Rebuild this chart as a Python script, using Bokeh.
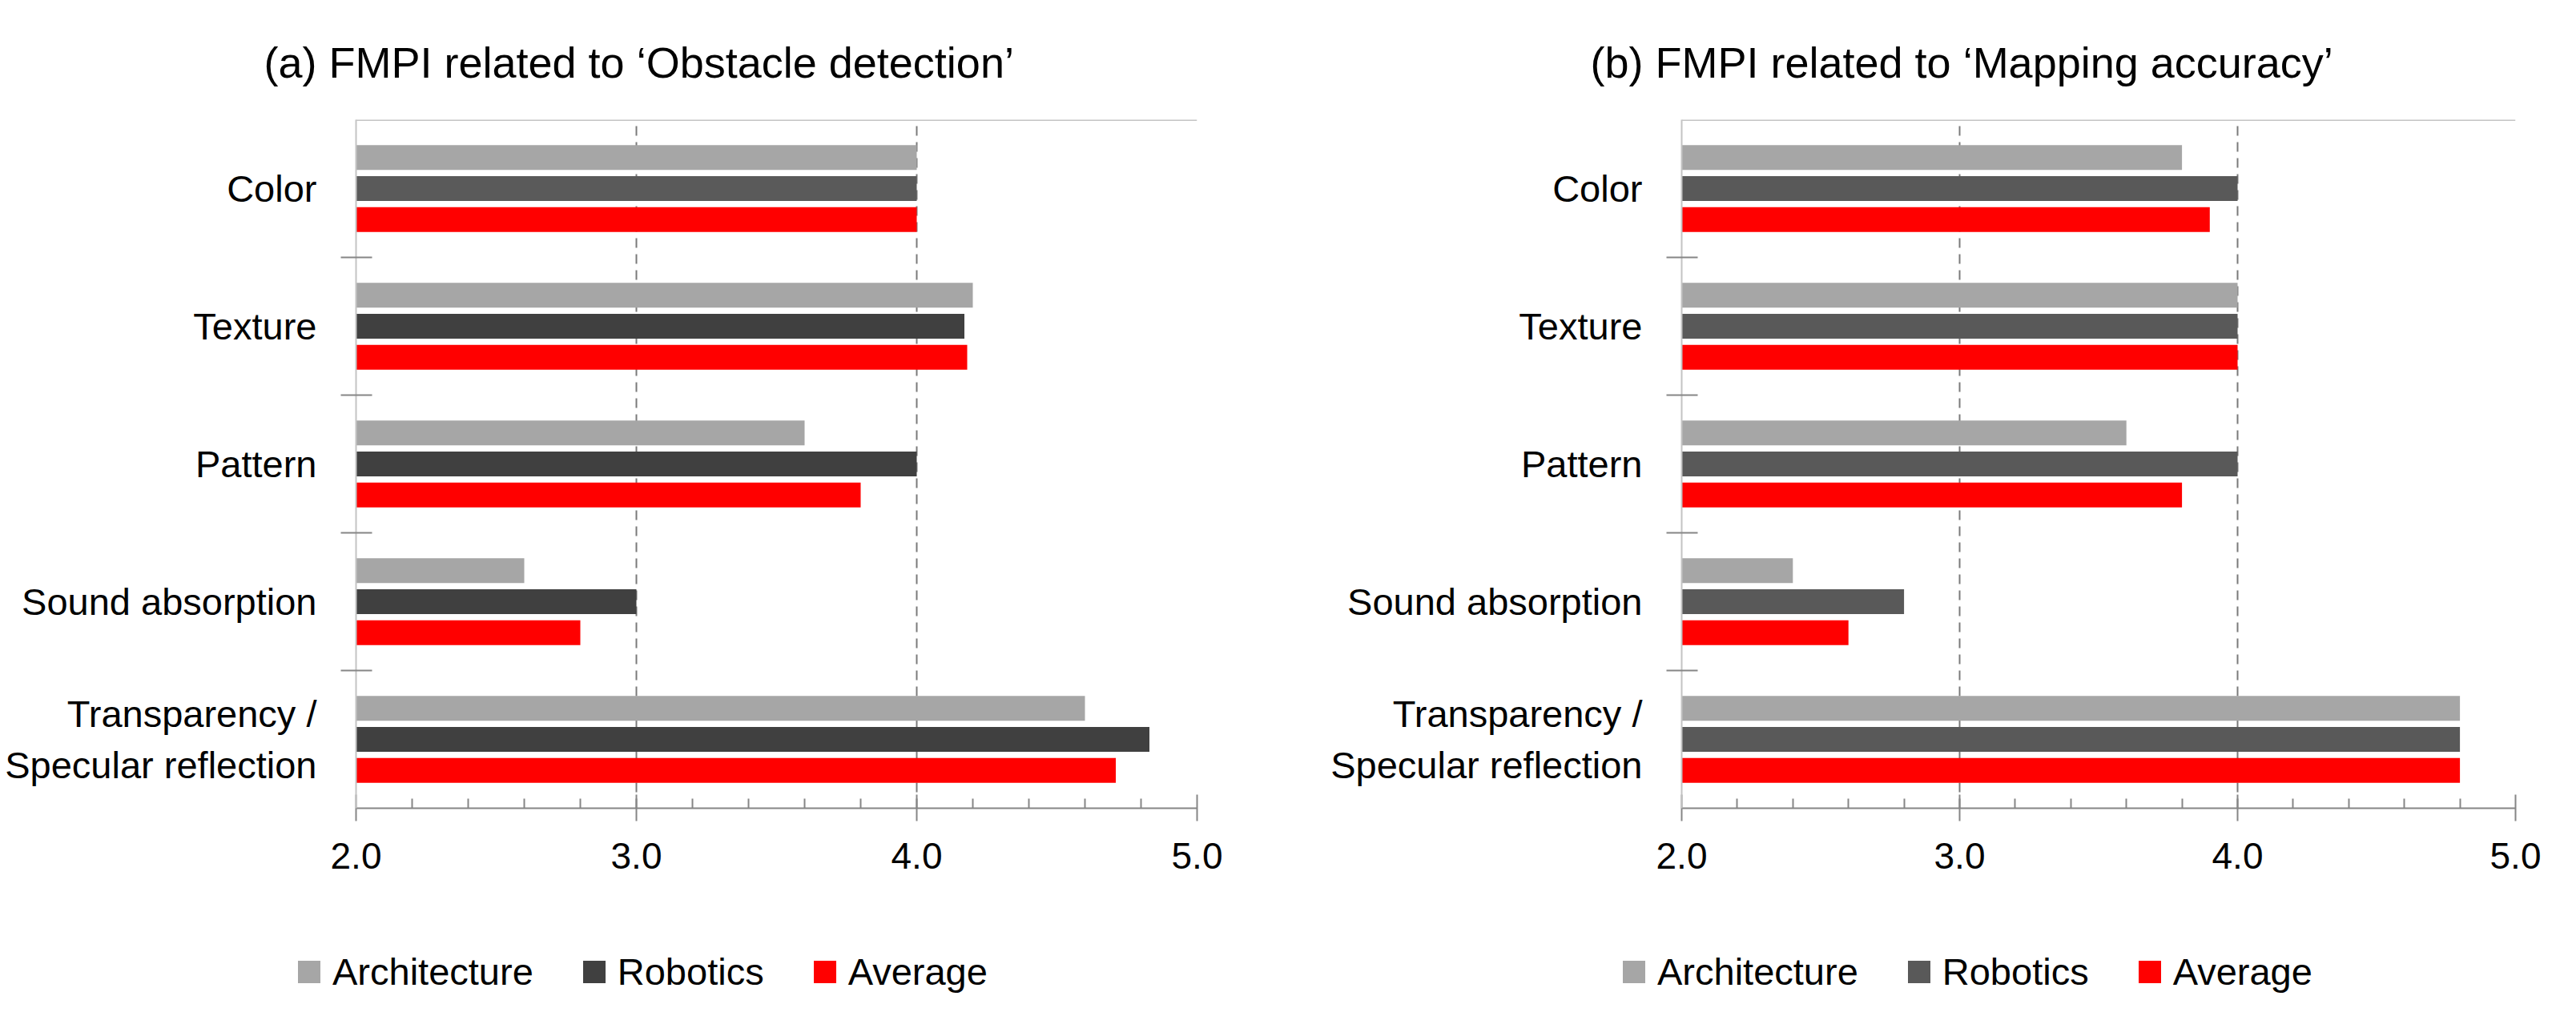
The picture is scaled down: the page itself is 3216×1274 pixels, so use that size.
from bokeh.plotting import figure
from bokeh.models import (Range1d, FixedTicker, ColumnDataSource, Title, Span,
                          PrintfTickFormatter, Div)
from bokeh.transform import dodge
from bokeh.layouts import row, column
from bokeh.embed import file_html
from bokeh.resources import INLINE

# ---------------- data ----------------
categories = ["Color", "Texture", "Pattern", "Sound absorption",
              "Transparency /\nSpecular reflection"]
series = ["Architecture", "Robotics", "Average"]
x_ticks = [2.0, 3.0, 4.0, 5.0]

obstacle_architecture = [4.0, 4.2, 3.6, 2.6, 4.6]
obstacle_robotics = [4.0, 4.17, 4.0, 3.0, 4.83]
obstacle_average = [4.0, 4.18, 3.8, 2.8, 4.71]

mapping_architecture = [3.8, 4.0, 3.6, 2.4, 4.8]
mapping_robotics = [4.0, 4.0, 4.0, 2.8, 4.8]
mapping_average = [3.9, 4.0, 3.8, 2.6, 4.8]

title_a = "(a) FMPI related to \u2018Obstacle detection\u2019"
title_b = "(b) FMPI related to \u2018Mapping accuracy\u2019"

# ---------------- styles ----------------
FONT = "Liberation Sans"
ARCH_COLOR = "#a6a6a6"
AVG_COLOR = "#ff0000"
ROB_COLORS_A = ["#5a5a5a", "#404040", "#404040", "#404040", "#404040"]
ROB_COLORS_B = ["#595959"] * 5
AXIS_GRAY = "#868686"
LIGHT_GRAY = "#c4c4c4"

N = len(categories)
# category slots from top (first category) to bottom
cat_pos = [N - i - 0.5 for i in range(N)]
cat_bounds = list(range(1, N))

FIG_W = 1596


def make_panel(title, arch, rob, avg, rob_colors, border_left, border_right, title_offset):
    p = figure(width=FIG_W, height=1119, output_backend="svg", toolbar_location=None,
               y_range=Range1d(0, N), x_range=Range1d(x_ticks[0], x_ticks[-1]),
               min_border_left=border_left, min_border_right=border_right,
               min_border_top=149, min_border_bottom=110)
    p.outline_line_color = None
    p.background_fill_color = "white"
    p.border_fill_color = "white"

    src = ColumnDataSource(dict(cat=categories, pos=cat_pos, arch=arch, rob=rob, avg=avg,
                                rob_color=rob_colors, base=[x_ticks[0]] * N))

    p.hbar(y=dodge("pos", 0.225), left="base", right="arch",
           height=0.18, source=src, fill_color=ARCH_COLOR, line_color=None)
    p.hbar(y=dodge("pos", 0.0), left="base", right="rob",
           height=0.18, source=src, fill_color="rob_color", line_color=None)
    p.hbar(y=dodge("pos", -0.225), left="base", right="avg",
           height=0.18, source=src, fill_color=AVG_COLOR, line_color=None)

    # grid
    p.ygrid.visible = False
    p.xgrid.ticker = FixedTicker(ticks=x_ticks[1:])
    p.xgrid.grid_line_color = "#7a7a7a"
    p.xgrid.grid_line_dash = "12 8"
    p.xgrid.grid_line_width = 2

    # x axis
    xa = p.xaxis[0]
    minor = [round(x_ticks[0] + 0.2 * i, 1) for i in range(1, 15) if (i % 5) != 0]
    xa.ticker = FixedTicker(ticks=x_ticks, minor_ticks=minor)
    xa.formatter = PrintfTickFormatter(format="%.1f")
    xa.axis_line_color = AXIS_GRAY
    xa.axis_line_width = 2
    xa.major_tick_line_color = AXIS_GRAY
    xa.major_tick_line_width = 2
    xa.minor_tick_line_color = AXIS_GRAY
    xa.minor_tick_line_width = 2
    xa.major_tick_in = 17
    xa.major_tick_out = 16
    xa.minor_tick_in = 12
    xa.minor_tick_out = 0
    xa.major_label_standoff = 27
    xa.major_label_text_font = FONT
    xa.major_label_text_font_size = "46px"
    xa.major_label_text_color = "black"

    # y axis: labels at category centres, boundary marks as minor ticks
    ya = p.yaxis[0]
    ya.ticker = FixedTicker(ticks=cat_pos, minor_ticks=cat_bounds)
    ya.major_label_overrides = {pos: c for pos, c in zip(cat_pos, categories)}
    ya.axis_line_color = LIGHT_GRAY
    ya.axis_line_width = 2
    ya.major_tick_line_color = None
    ya.major_tick_in = 0
    ya.major_tick_out = 0
    ya.minor_tick_line_color = AXIS_GRAY
    ya.minor_tick_line_width = 2
    ya.minor_tick_in = 20
    ya.minor_tick_out = 19
    ya.major_label_standoff = 30
    ya.major_label_text_font = FONT
    ya.major_label_text_font_size = "47px"
    ya.major_label_text_color = "black"
    ya.major_label_text_align = "center"

    # top border line
    p.add_layout(Span(location=N, dimension="width", line_color=LIGHT_GRAY, line_width=3))

    # title
    p.title = Title(text=title, align="left", offset=title_offset, standoff=84,
                    text_font=FONT, text_font_size="54px", text_font_style="normal",
                    text_color="black")
    return p


def make_legend(rob_color, pad_left):
    colors = [ARCH_COLOR, rob_color, AVG_COLOR]
    parts = []
    for i, (name, col) in enumerate(zip(series, colors)):
        ml = 0 if i == 0 else 62
        parts.append(
            f'<span style="display:inline-block;width:28px;height:28px;background:{col};'
            f'margin-left:{ml}px;margin-right:15px;flex:none"></span>'
            f'<span style="flex:none">{name}</span>')
    html = (f'<div style="display:flex;flex-direction:row;align-items:center;height:56px;'
            f'margin-top:67px;padding-left:{pad_left}px;font-family:\'{FONT}\';'
            f'font-size:47px;line-height:56px;color:#000;white-space:nowrap">'
            + "".join(parts) + '</div>')
    return Div(text=html, width=FIG_W, height=131, margin=(0, 0, 0, 0))


pa = make_panel(title_a, obstacle_architecture, obstacle_robotics, obstacle_average,
                ROB_COLORS_A, 444, 102, -115)
pb = make_panel(title_b, mapping_architecture, mapping_robotics, mapping_average,
                ROB_COLORS_B, 503, 52, -114)
la = make_legend(ROB_COLORS_A[1], 372)
lb = make_legend(ROB_COLORS_B[1], 430)

layout = row(column(pa, la), column(pb, lb))
open("out.html", "w").write(file_html(layout, INLINE))
